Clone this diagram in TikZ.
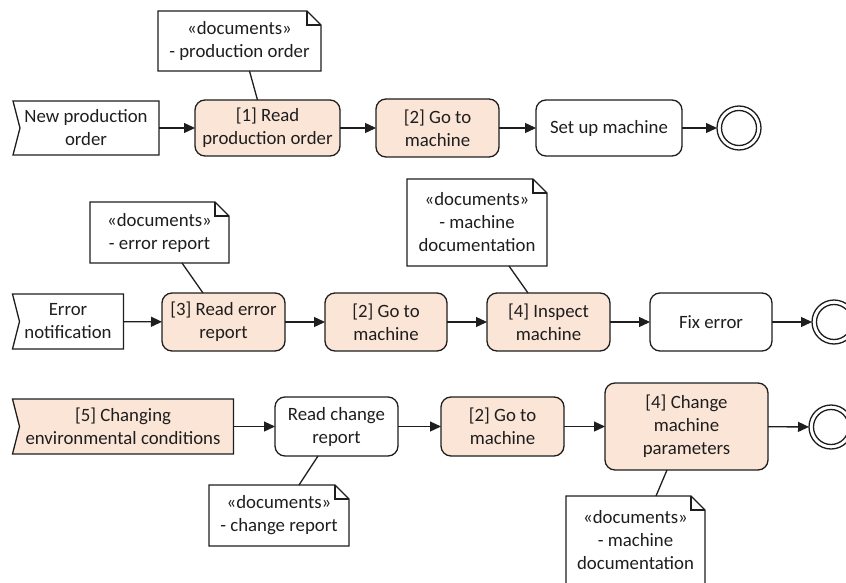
\documentclass[tikz,border=0pt]{standalone}
\usepackage{fontspec}
\setmainfont{Carlito}
\usetikzlibrary{arrows.meta,calc}
\pgfdeclarelayer{bg}
\pgfsetlayers{bg,main}
\definecolor{peach}{HTML}{FBE5D6}
\definecolor{ink}{HTML}{1E1E1E}
\tikzset{
 base/.style={inner sep=0pt, outer sep=0pt, align=center, font=\fontsize{18.8}{23}\selectfont, text=ink, rectangle},
 task/.style={base, draw=ink, line width=1.3pt, rounded corners=10pt, fill=white},
 hl/.style={fill=peach},
 edge/.style={draw=ink, line width=1.3pt},
 flow/.style={edge, -{Triangle[length=11pt,width=10pt]}},
 endev/.style={circle, draw=ink, line width=1.3pt, minimum size=44pt, inner sep=0pt, outer sep=0pt, fill=white},
}
\newcommand\drawevent[2][white]{%
 \begin{pgfonlayer}{bg}
 \draw[edge, fill=#1] (#2.north west) -- (#2.north east) -- (#2.south east) -- (#2.south west) -- ([xshift=7pt]#2.west) -- cycle;
 \end{pgfonlayer}}
\newcommand\drawnote[1]{%
 \begin{pgfonlayer}{bg}
 \draw[edge, fill=white] (#1.north west) -- ([xshift=-14pt]#1.north east) -- ([yshift=-14pt]#1.north east) -- (#1.south east) -- (#1.south west) -- cycle;
 \draw[edge] ([xshift=-14pt]#1.north east) -- ([xshift=-14pt,yshift=-14pt]#1.north east) -- ([yshift=-14pt]#1.north east);
 \end{pgfonlayer}}
\begin{document}
\begin{tikzpicture}[x=1pt,y=-1pt]
\useasboundingbox (0,0) rectangle (846,583);
\clip (0,0) rectangle (846,583);
% ---------- Row 1 ----------
\node[base, minimum width=146pt, minimum height=54pt] (e1) at (86,128) {New production\\order};
\drawevent{e1}
\node[base, minimum width=163pt, minimum height=60pt] (n1) at (239.5,41) {«documents»\\- production order};
\drawnote{n1}
\node[task, hl, minimum width=145pt, minimum height=56pt] (t1) at (267.5,128) {[1] Read\\production order};
\node[task, hl, minimum width=123pt, minimum height=58pt] (t2) at (437.5,128) {[2] Go to\\machine};
\node[task, minimum width=146pt, minimum height=56pt] (t3) at (609,128) {Set up machine};
\node[endev] (end1) at (739,128) {};
\draw[edge] (end1.center) circle (17.5);
\draw[flow] (e1) -- (t1);
\draw[flow] (t1) -- (t2);
\draw[flow] (t2) -- (t3);
\draw[flow] (t3) -- (end1);
\draw[edge] ([xshift=10pt]n1.south) -- ([xshift=-10pt]t1.north);
% ---------- Row 2 ----------
\node[base, minimum width=111pt, minimum height=55pt] (e2) at (68,321.5) {Error\\notification};
\drawevent{e2}
\node[base, minimum width=139pt, minimum height=61pt] (n2) at (159.5,232.5) {«documents»\\- error report};
\drawnote{n2}
\node[task, hl, minimum width=123pt, minimum height=58pt] (t4) at (223.5,322) {[3] Read error\\report};
\node[task, hl, minimum width=122pt, minimum height=58pt] (t5) at (386,322) {[2] Go to\\machine};
\node[base, minimum width=140pt, minimum height=87pt] (n3) at (477,222.5) {«documents»\\- machine\\documentation};
\drawnote{n3}
\node[task, hl, minimum width=123pt, minimum height=58pt] (t6) at (548.5,322) {[4] Inspect\\machine};
\node[task, minimum width=122pt, minimum height=58pt] (t7) at (711,322) {Fix error};
\node[endev] (end2) at (834,322) {};
\draw[edge] (end2.center) circle (17.5);
\draw[flow] (e2) -- (t4);
\draw[flow] (t4) -- (t5);
\draw[flow] (t5) -- (t6);
\draw[flow] (t6) -- (t7);
\draw[flow] (t7) -- (end2);
\draw[edge] ([xshift=22.5pt]n2.south) -- ([xshift=-20.5pt]t4.north);
\draw[edge] ([xshift=32pt]n3.south) -- ([xshift=-20.5pt]t6.north);
% ---------- Row 3 ----------
\node[base, minimum width=221pt, minimum height=55pt] (e3) at (123,426.5) {[5] Changing\\environmental conditions};
\drawevent[peach]{e3}
\node[task, minimum width=123pt, minimum height=59pt] (t8) at (336.5,426.5) {Read change\\report};
\node[base, minimum width=140pt, minimum height=61pt] (n4) at (279,515.5) {«documents»\\- change report};
\drawnote{n4}
\node[task, hl, minimum width=123pt, minimum height=59pt] (t9) at (502.5,426.5) {[2] Go to\\machine};
\node[task, hl, minimum width=163pt, minimum height=87pt] (t10) at (686.5,426.5) {[4] Change\\machine\\parameters};
\node[base, minimum width=139pt, minimum height=88pt] (n5) at (635.5,540) {«documents»\\- machine\\documentation};
\drawnote{n5}
\node[endev] (end3) at (831,427) {};
\draw[edge] (end3.center) circle (17.5);
\draw[flow] (e3) -- (t8);
\draw[flow] (t8) -- (t9);
\draw[flow] (t9) -- (t10);
\draw[flow] (t10) -- (end3);
\draw[edge] ([xshift=-18.5pt]t8.south) -- ([xshift=20pt]n4.north);
\draw[edge] ([xshift=-19.5pt]t10.south) -- ([xshift=20.5pt]n5.north);
\end{tikzpicture}
\end{document}
